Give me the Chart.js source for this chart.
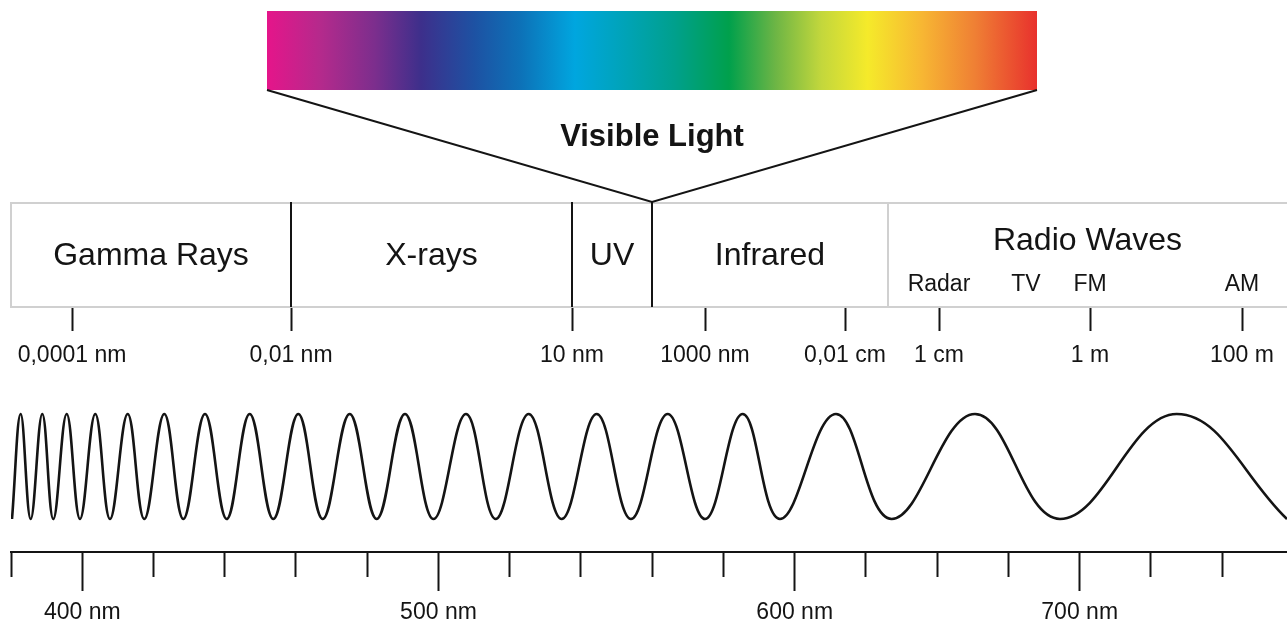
<!DOCTYPE html>
<html lang="en">
<head>
<meta charset="utf-8">
<title>Electromagnetic spectrum</title>
<script src="https://cdn.jsdelivr.net/npm/chart.js@4.4.1/dist/chart.umd.min.js"></script>
<style>
  html, body { margin: 0; padding: 0; background: #fff; }
  #wrap { width: 1287px; height: 624px; position: relative; }
</style>
</head>
<body>
<div id="wrap"><canvas id="spectrum"></canvas></div>
<script>
"use strict";

// DATA //////////////////////////////////////////////
// Positions are in diagram units along the strip.

// Bands of the strip and the boundaries between them
const bandNames = ["Gamma Rays", "X-rays", "UV", "Infrared", "Radio Waves"];
const bandEdges = [11, 291, 572, 652, 888, 1287];

// Radio sub-bands
const radioNames = ["Radar", "TV", "FM", "AM"];
const radioSpots = [939, 1026, 1090, 1242];

// Wavelength ticks under the strip
const wavelengthSpots = [72, 291, 572, 705, 845, 939, 1090, 1242];
const wavelengthLabels = [
  "0,0001 nm", "0,01 nm", "10 nm", "1000 nm",
  "0,01 cm", "1 cm", "1 m", "100 m",
];

// Visible light strip: extent and colour stops
const visibleSpan = [267, 1037];
const visibleStops = [0, 0.07, 0.14, 0.2, 0.27, 0.33, 0.4, 0.47, 0.53, 0.6, 0.66, 0.72, 0.78, 0.85, 0.92, 1];
const visibleColors = [
  "#e5158a", "#b42a8c", "#7c2e8d", "#3d2f8b", "#1d52a3", "#0d72b8",
  "#00a6df", "#00a3b4", "#00a08c", "#00a04c", "#6cb545", "#c3d73c",
  "#f5ea2a", "#f7b733", "#ef7f34", "#e8312d",
];

// Wave: crest (+1) and trough (-1) positions
const waveX = [
  12, 20.7, 30.7, 42.3, 53.3, 66.7, 80, 95.3, 110, 127.7,
  144.3, 164.3, 183.3, 205, 226.7, 249.7, 273.3, 298.3, 322.7, 349.7,
  376.7, 405, 433.5, 466, 495.7, 528.7, 561.7, 596.7, 631, 667.7,
  705, 742.7, 780, 836, 891.7, 975, 1060, 1176.7, 1287,
];
const waveSide = [
  -1, 1, -1, 1, -1, 1, -1, 1, -1, 1,
  -1, 1, -1, 1, -1, 1, -1, 1, -1, 1,
  -1, 1, -1, 1, -1, 1, -1, 1, -1, 1,
  -1, 1, -1, 1, -1, 1, -1, 1, -1,
];

// Ruler under the wave (tick index units)
const rulerTicks = [0, 1, 2, 3, 4, 5, 6, 7, 8, 9, 10, 11, 12, 13, 14, 15, 16, 17];
const rulerMajor = [1, 6, 11, 15];
const rulerLabels = ["400 nm", "500 nm", "600 nm", "700 nm"];
const rulerEnd = 17.91;

// LAYOUT & STYLE ////////////////////////////////////

const LAYOUT = {
  left: 11,
  right: 1287,
  height: 624,
  barTop: 11,
  barBottom: 90,
  titleBase: 146,
  boxTop: 203,
  boxBottom: 307,
  bandBase: 265,
  radioBase: 250,
  radioSubBase: 291,
  waveTop: 414,
  waveBottom: 519,
  rulerY: 552,
};

const INK = "#141414";
const FRAME = "#d0d0d0";
const dividerInk = [INK, INK, INK, FRAME];
const FAMILY = "'Liberation Sans', Arial, Helvetica, sans-serif";

Chart.defaults.font.family = FAMILY;
Chart.defaults.color = INK;

// Data for the datasets

const wavePoints = waveX.map((x, i) => ({
  x: x,
  y: waveSide[i] > 0 ? LAYOUT.waveTop : LAYOUT.waveBottom,
}));

// Funnel from the visible strip down to the UV / Infrared boundary
const funnelPoints = [
  { x: visibleSpan[0], y: LAYOUT.barBottom },
  { x: bandEdges[3], y: LAYOUT.boxTop - 1 },
  { x: visibleSpan[1], y: LAYOUT.barBottom },
];

// minor ruler ticks are the ones without a label
const rulerMinor = rulerTicks.filter((t) => !rulerMajor.includes(t));

// Plugin: strip, frame and text
const diagramPlugin = {
  id: "diagram",
  beforeDatasetsDraw(chart) {
    const { ctx } = chart;
    const sx = (v) => chart.scales.x.getPixelForValue(v);
    const sy = (v) => chart.scales.y.getPixelForValue(v);

    ctx.save();

    // visible light strip
    const x0 = sx(visibleSpan[0]);
    const x1 = sx(visibleSpan[1]);
    const grad = ctx.createLinearGradient(x0, 0, x1, 0);
    visibleStops.forEach((s, i) => grad.addColorStop(s, visibleColors[i]));
    ctx.fillStyle = grad;
    ctx.fillRect(x0, sy(LAYOUT.barTop), x1 - x0, sy(LAYOUT.barBottom) - sy(LAYOUT.barTop));

    ctx.fillStyle = INK;
    ctx.textAlign = "center";
    ctx.textBaseline = "alphabetic";
    ctx.font = "bold 31px " + FAMILY;
    ctx.fillText("Visible Light", sx(bandEdges[3]), sy(LAYOUT.titleBase));

    // band frame
    const top = sy(LAYOUT.boxTop);
    const bottom = sy(LAYOUT.boxBottom);
    ctx.strokeStyle = FRAME;
    ctx.lineWidth = 2;
    ctx.beginPath();
    ctx.moveTo(sx(bandEdges[bandEdges.length - 1]) + 5, top);
    ctx.lineTo(sx(bandEdges[0]), top);
    ctx.lineTo(sx(bandEdges[0]), bottom);
    ctx.lineTo(sx(bandEdges[bandEdges.length - 1]) + 5, bottom);
    ctx.stroke();

    // dividers between bands
    for (let i = 1; i < bandEdges.length - 1; i++) {
      const x = Math.round(sx(bandEdges[i]));
      ctx.strokeStyle = dividerInk[i - 1];
      ctx.beginPath();
      ctx.moveTo(x, top - 1);
      ctx.lineTo(x, bottom);
      ctx.stroke();
    }

    // band names
    ctx.font = "32px " + FAMILY;
    bandNames.forEach((name, i) => {
      const cx = sx((bandEdges[i] + bandEdges[i + 1]) / 2);
      const base = i === bandNames.length - 1 ? LAYOUT.radioBase : LAYOUT.bandBase;
      ctx.fillText(name, cx, sy(base));
    });

    // radio sub-bands
    ctx.font = "23px " + FAMILY;
    radioNames.forEach((name, i) => {
      ctx.fillText(name, sx(radioSpots[i]), sy(LAYOUT.radioSubBase));
    });

    ctx.restore();
  },
};

const tickFont = { family: FAMILY, size: 23 };
const flat = (s) => {
  s.height = 0;
};

new Chart(document.getElementById("spectrum"), {
  type: "scatter",
  data: {
    datasets: [
      {
        label: "Wave",
        data: wavePoints,
        showLine: true,
        borderColor: INK,
        borderWidth: 2.6,
        pointRadius: 0,
        // horizontal tangents at crests/troughs, rounded like a sine
        tension: 0.4,
      },
      {
        label: "Visible light",
        data: funnelPoints,
        showLine: true,
        borderColor: INK,
        borderWidth: 2,
        pointRadius: 0,
        tension: 0,
      },
    ],
  },
  options: {
    responsive: true,
    maintainAspectRatio: false,
    animation: false,
    events: [],
    layout: { padding: { left: LAYOUT.left, right: 0, top: 0, bottom: 0 } },
    plugins: {
      legend: { display: false },
      tooltip: { enabled: false },
    },
    scales: {
      x: { type: "linear", min: LAYOUT.left, max: LAYOUT.right, display: false },
      y: { type: "linear", min: 0, max: LAYOUT.height, reverse: true, display: false },
      wavelength: {
        type: "linear",
        axis: "x",
        min: LAYOUT.left,
        max: LAYOUT.right,
        position: { y: LAYOUT.boxBottom },
        afterBuildTicks: (s) => {
          s.ticks = wavelengthSpots.map((v) => ({ value: v }));
        },
        afterFit: flat,
        border: { display: false },
        grid: {
          drawOnChartArea: false,
          tickLength: 24,
          tickWidth: 2,
          tickColor: INK,
        },
        ticks: {
          autoSkip: false,
          maxRotation: 0,
          padding: 11,
          font: tickFont,
          color: INK,
          callback: (v, i) => wavelengthLabels[i],
        },
      },
      rulerMinor: {
        type: "linear",
        axis: "x",
        min: 0,
        max: rulerEnd,
        position: { y: LAYOUT.rulerY },
        afterBuildTicks: (s) => {
          s.ticks = rulerMinor.map((v) => ({ value: v }));
        },
        afterFit: flat,
        border: { display: true, color: INK, width: 2 },
        grid: {
          drawOnChartArea: false,
          tickLength: 24,
          tickWidth: 2,
          tickColor: INK,
        },
        ticks: { display: false },
      },
      rulerMajor: {
        type: "linear",
        axis: "x",
        min: 0,
        max: rulerEnd,
        position: { y: LAYOUT.rulerY },
        afterBuildTicks: (s) => {
          s.ticks = rulerMajor.map((v) => ({ value: v }));
        },
        afterFit: flat,
        border: { display: false },
        grid: {
          drawOnChartArea: false,
          tickLength: 39,
          tickWidth: 2,
          tickColor: INK,
        },
        ticks: {
          autoSkip: false,
          maxRotation: 0,
          padding: 8,
          font: tickFont,
          color: INK,
          callback: (v, i) => rulerLabels[i],
        },
      },
    },
  },
  plugins: [diagramPlugin],
});
</script>
</body>
</html>
